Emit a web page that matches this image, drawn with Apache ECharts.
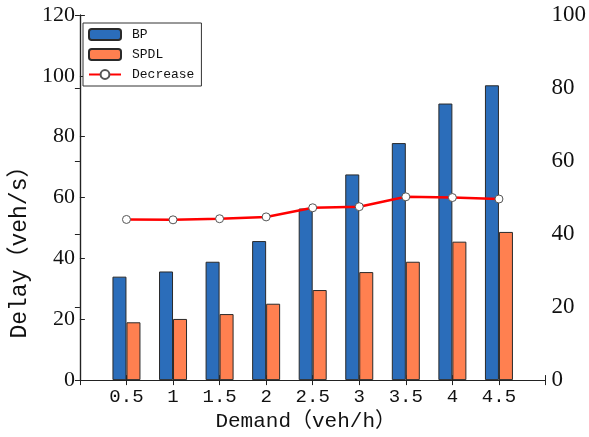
<!DOCTYPE html>
<html>
<head>
<meta charset="utf-8">
<script src="https://cdn.jsdelivr.net/npm/echarts@6/dist/echarts.min.js"></script>
<style>
html,body{margin:0;padding:0;background:#fff;}
#chart{width:589px;height:437px;}
</style>
</head>
<body>
<div id="chart"></div>
<script>
const categories = [0.5, 1, 1.5, 2, 2.5, 3, 3.5, 4, 4.5];
const bpValues = [34.0, 35.7, 38.9, 45.7, 56.4, 67.6, 77.9, 90.9, 96.9];
const spdlValues = [19.0, 20.1, 21.7, 25.1, 29.6, 35.5, 38.9, 45.5, 48.7];
const decreaseValues = [44.0, 43.9, 44.2, 44.7, 47.2, 47.5, 50.2, 50.0, 49.6];
const seriesNames = ['BP', 'SPDL', 'Decrease'];
const xAxisName = 'Demand（veh/h）';
const yAxisName = 'Delay（veh/s）';

const pair = (vals) => categories.map((c, i) => [c, vals[i]]);

const monoFont = '"Liberation Mono", "Noto Sans CJK SC", monospace';
const serifFont = '"Liberation Serif", serif';
const axisLineStyle = { color: '#222', width: 1.2 };

const chart = echarts.init(document.getElementById('chart'), null, { renderer: 'canvas' });
chart.setOption({
  animation: false,
  backgroundColor: '#fff',
  grid: { left: 76, right: 40, top: 15, bottom: 55, containLabel: false },
  legend: {
    orient: 'vertical',
    left: 83,
    top: 23,
    padding: [5, 7, 5, 5],
    itemWidth: 32,
    itemHeight: 11,
    itemGap: 7,
    borderColor: '#333',
    borderWidth: 1,
    backgroundColor: '#fff',
    data: seriesNames,
    textStyle: { fontFamily: monoFont, fontSize: 13, color: '#111', padding: [0, 0, 0, 6] }
  },
  xAxis: [
    {
      type: 'value', min: 0, max: 5, interval: 0.5, position: 'bottom',
      name: xAxisName, nameLocation: 'middle', nameGap: 27,
      nameTextStyle: { fontFamily: monoFont, fontSize: 21, color: '#111', padding: [0, 14, 0, 0] },
      axisLine: { show: true, lineStyle: axisLineStyle },
      axisTick: { show: true, inside: true, length: 5, lineStyle: { color: '#222' } },
      axisLabel: {
        fontFamily: monoFont, fontSize: 19, color: '#111', margin: 7,
        formatter: (v) => (categories.indexOf(v) >= 0 ? String(v) : '')
      },
      splitLine: { show: false }
    },
    {
      type: 'value', min: 0, max: 5, interval: 0.5, position: 'top',
      axisLine: { show: true, lineStyle: axisLineStyle },
      axisTick: { show: true, inside: true, length: 5, lineStyle: { color: '#222' } },
      axisLabel: { show: false },
      splitLine: { show: false }
    }
  ],
  yAxis: [
    {
      type: 'value', min: 0, max: 120, interval: 20, position: 'left',
      name: yAxisName, nameLocation: 'middle', nameGap: 47, nameRotate: 90,
      nameTextStyle: { fontFamily: monoFont, fontSize: 23, color: '#111', padding: [0, 98, 0, 0] },
      axisLine: { show: true, lineStyle: axisLineStyle },
      axisTick: { show: true, inside: true, length: 5, lineStyle: { color: '#222' } },
      axisLabel: { fontFamily: serifFont, fontSize: 22, color: '#111', margin: 5 },
      splitLine: { show: false }
    },
    {
      type: 'value', min: 0, max: 100, interval: 20, position: 'right',
      axisLine: { show: true, lineStyle: axisLineStyle },
      axisTick: { show: true, inside: true, length: 5, lineStyle: { color: '#222' } },
      axisLabel: { fontFamily: serifFont, fontSize: 23, color: '#111', margin: 6 },
      splitLine: { show: false }
    }
  ],
  series: [
    {
      name: seriesNames[0], type: 'bar', xAxisIndex: 0, yAxisIndex: 0,
      data: pair(bpValues), barWidth: 14, barGap: '0%',
      itemStyle: { color: '#2B6DBA', borderColor: '#2a2a2a', borderWidth: 1 }
    },
    {
      name: seriesNames[1], type: 'bar', xAxisIndex: 0, yAxisIndex: 0,
      data: pair(spdlValues), barWidth: 14, barGap: '0%',
      itemStyle: { color: '#FF8050', borderColor: '#2a2a2a', borderWidth: 1 }
    },
    {
      name: seriesNames[2], type: 'line', xAxisIndex: 0, yAxisIndex: 1,
      data: pair(decreaseValues), symbol: 'circle', symbolSize: 8, z: 5,
      lineStyle: { color: '#FF0000', width: 2.5 },
      itemStyle: { color: '#FFFFFF', borderColor: '#555', borderWidth: 1 }
    }
  ]
});
</script>
</body>
</html>
